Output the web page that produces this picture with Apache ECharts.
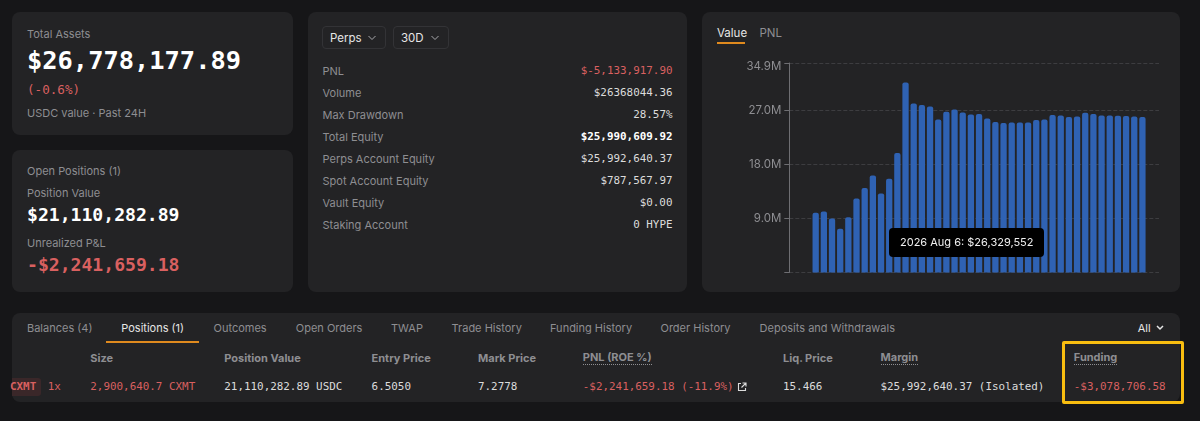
<!DOCTYPE html>
<html><head><meta charset="utf-8">
<script src="https://cdn.jsdelivr.net/npm/echarts@6/dist/echarts.min.js"></script>
<style>
html,body{margin:0;padding:0;width:1200px;height:421px;overflow:hidden;background:#161618}
.p{position:absolute;background:#232325;border-radius:8px}
.t{position:absolute;white-space:nowrap;line-height:16px;height:16px;font-family:Inter,"Noto Sans",sans-serif;font-size:11px;color:#8e8e92}
.m{font-family:"DejaVu Sans Mono",monospace;font-size:10.9px;color:#dcdcdc}
.r{color:#d96060}
.w{color:#e6e6e6}
.b{font-weight:700}
.u{border-bottom:1px dotted #8e8e92;line-height:13px;height:13px}
.box{position:absolute;border:1px solid #333336;border-radius:4px;box-sizing:border-box}
#chart{position:absolute;left:702px;top:50px;width:478px;height:242px}
svg{position:absolute}
</style></head><body>
<div class="p" style="left:12px;top:12px;width:281px;height:123px"></div>
<div class="p" style="left:12px;top:150px;width:281px;height:142px"></div>
<div class="p" style="left:308px;top:12px;width:379px;height:280px"></div>
<div class="p" style="left:702px;top:12px;width:478px;height:280px"></div>
<div class="p" style="left:12px;top:313px;width:1168px;height:89px"></div>
<div style="position:absolute;left:12px;top:378px;width:29px;height:18px;background:#3a2729;border-radius:0 3px 3px 0"></div>
<div class="box" style="left:322px;top:26px;width:64px;height:23px"></div>
<div class="box" style="left:393px;top:26px;width:56px;height:23px"></div>
<div style="position:absolute;left:717px;top:42px;width:28px;height:2px;background:#e08a1e"></div>
<div style="position:absolute;left:106px;top:341px;width:93px;height:2px;background:#e08a1e"></div>
<div id="chart"></div>
<div style="position:absolute;left:1062px;top:341px;width:122px;height:63px;box-sizing:border-box;border:3px solid #f8bd10;border-radius:2px"></div>
<svg style="left:367px;top:34px" width="10" height="8"><path d="M1.5 2 L5 5.5 L8.5 2" fill="none" stroke="#a8a8ac" stroke-width="1"/></svg>
<svg style="left:430px;top:34px" width="10" height="8"><path d="M1.5 2 L5 5.5 L8.5 2" fill="none" stroke="#a8a8ac" stroke-width="1"/></svg>
<svg style="left:1155px;top:324px" width="10" height="8"><path d="M2 2 L5 5 L8 2" fill="none" stroke="#e6e6e6" stroke-width="1.5"/></svg>
<svg style="left:737px;top:382px" width="10" height="10"><path d="M4 1.5H1.5V8.5H8.5V6M5.5 1H9V4.5M9 1L4.5 5.5" fill="none" stroke="#dcdcdc" stroke-width="1.1"/></svg>
<div id="txt"></div>
<script>
var days=["Jul 18","Jul 19","Jul 20","Jul 21","Jul 22","Jul 23","Jul 24","Jul 25","Jul 26","Jul 27","Jul 28","Jul 29","Jul 30","Jul 31","Aug 1","Aug 2","Aug 3","Aug 4","Aug 5","Aug 6","Aug 7","Aug 8","Aug 9","Aug 10","Aug 11","Aug 12","Aug 13","Aug 14","Aug 15","Aug 16","Aug 17","Aug 18","Aug 19","Aug 20","Aug 21","Aug 22","Aug 23","Aug 24","Aug 25","Aug 26","Aug 27"];
var values=[9.94,10.17,9.0,7.28,9.22,12.33,14.06,16.17,13.17,15.6,19.9,31.67,28.17,27.9,27.67,25.5,26.78,27.17,26.67,26.329552,26.39,25.67,25.06,24.89,25.0,25.0,25.0,25.39,25.5,26.22,26.17,25.89,26.0,26.61,26.39,26.17,26.17,26.11,26.06,26.0,25.89];
var yTicks=[9,18,27,34.9];
var hoverIndex=19;

var texts=[
[27,33.7,"Total Assets",""],
[27,60,"$26,778,177.89","m b|font-size:25.4px;color:#fff"],
[27,89.7,"(-0.6%)","m r|font-size:12.6px"],
[27,113,"USDC value · Past 24H",""],
[27,171,"Open Positions (1)",""],
[27,193,"Position Value",""],
[27,215,"$21,110,282.89","m b|font-size:18.1px;color:#fff"],
[27,243,"Unrealized P&L",""],
[27,265,"-$2,241,659.18","m b r|font-size:18.1px"],
[330,38,"Perps","w|font-size:11.5px"],
[401,38,"30D","w|font-size:11.5px"],
[322.5,71,"PNL",""],[322.5,93,"Volume",""],[322.5,115,"Max Drawdown",""],[322.5,137,"Total Equity",""],
[322.5,159,"Perps Account Equity",""],[322.5,181,"Spot Account Equity",""],[322.5,203,"Vault Equity",""],[322.5,225,"Staking Account",""],
[717,33.7,"Value","w|font-size:11.5px"],
[759.5,33.7,"PNL","|font-size:11.5px"],
[27,328.3,"Balances (4)",""],[121.3,328.3,"Positions (1)","w"],[213.5,328.3,"Outcomes",""],[295.8,328.3,"Open Orders",""],[391,328.3,"TWAP",""],
[451.6,328.3,"Trade History",""],[550,328.3,"Funding History",""],[660.5,328.3,"Order History",""],[759.6,328.3,"Deposits and Withdrawals",""],[1137.7,328.3,"All","w"],
[90.3,358,"Size","b"],[224.3,358,"Position Value","b"],[371.6,358,"Entry Price","b"],[478,358,"Mark Price","b"],
[582.8,358,"PNL (ROE %)","b u"],[783,358,"Liq. Price","b"],[880.5,358,"Margin","b u"],[1073.8,358,"Funding","b u"],
[10,387.3,"CXMT","m r b"],[47.8,387.3,"1x","m r"],
[90.3,387.3,"2,900,640.7 CXMT","m r"],[224.3,387.3,"21,110,282.89 USDC","m"],[371.6,387.3,"6.5050","m"],[478,387.3,"7.2778","m"],
[582.8,387.3,"-$2,241,659.18 (-11.9%)","m r"],[783,387.3,"15.466","m"],[880.5,387.3,"$25,992,640.37 (Isolated)","m"],[1073.8,387.3,"-$3,078,706.58","m r"]
];
var rightTexts=[
[71,"$-5,133,917.90","m r"],[93,"$26368044.36","m"],[115,"28.57%","m"],[137,"$25,990,609.92","m b|color:#fff"],
[159,"$25,992,640.37","m"],[181,"$787,567.97","m"],[203,"$0.00","m"],[225,"0 HYPE","m"]
];
var host=document.getElementById('txt');
function add(x,y,s,c,right){
  var parts=(c||"").split("|");
  var d=document.createElement('div');
  d.className='t '+parts[0];
  d.textContent=s;
  d.style.cssText=(right?'right:'+(1200-x)+'px;':'left:'+x+'px;')+'top:'+(y-8)+'px;'+(parts[1]||'');
  if(parts[0].indexOf('u')>=0)d.style.top=(y-7)+'px';
  if(parts[1]&&parts[1].indexOf('font-size')>=0){var f=parseFloat(parts[1].match(/font-size:([\d.]+)/)[1]);var h=Math.round(f*1.3);d.style.height=h+'px';d.style.lineHeight=h+'px';d.style.top=(y-h/2)+'px';}
  host.appendChild(d);
}
texts.forEach(function(a){add(a[0],a[1],a[2],a[3])});
rightTexts.forEach(function(a){add(672.5,a[0],a[1],a[2],true)});

var chart=echarts.init(document.getElementById('chart'),null,{renderer:'canvas'});
chart.setOption({
  animation:false,
  backgroundColor:'transparent',
  grid:{left:87.3,right:21,top:13,bottom:19.5,containLabel:false},
  tooltip:{
    trigger:'item',alwaysShowContent:true,showDelay:0,transitionDuration:0,
    backgroundColor:'#000',borderWidth:0,borderRadius:4,padding:[7,11],
    textStyle:{color:'#f0f0f0',fontSize:11,fontFamily:'Inter'},
    extraCssText:'box-shadow:none;width:133px;text-align:center;line-height:15px;white-space:nowrap;',
    position:[186.5,177.5],
    formatter:function(p){return '2026 '+days[p.dataIndex]+': $'+Math.round(values[p.dataIndex]*1e6).toLocaleString('en-US');}
  },
  xAxis:{type:'value',show:false,min:-3.23,max:42.03},
  yAxis:{type:'value',min:0,max:34.9,interval:9,
    axisLine:{show:true,onZero:false,lineStyle:{color:'#6e6e72',width:1}},
    axisTick:{show:true,length:5,lineStyle:{color:'#6e6e72'}},
    splitLine:{show:true,lineStyle:{color:'#3d3d40',type:'dashed',width:1}},
    axisLabel:{color:'#8e8e92',fontSize:11.5,lineHeight:8,fontFamily:'Inter',margin:8,verticalAlignMaxLabel:'top',
      formatter:function(v){return v===0?'':(yTicks.indexOf(v)>=0?v.toFixed(1)+'M':'');}}
  },
  series:[{type:'bar',barWidth:6.3,
    data:values.map(function(v,i){return [i,v]}),
    itemStyle:{color:'#2f62b3',borderRadius:[2,2,0,0]},
    emphasis:{disabled:true}
  }]
});
chart.dispatchAction({type:'showTip',seriesIndex:0,dataIndex:hoverIndex});
</script>
</body></html>
